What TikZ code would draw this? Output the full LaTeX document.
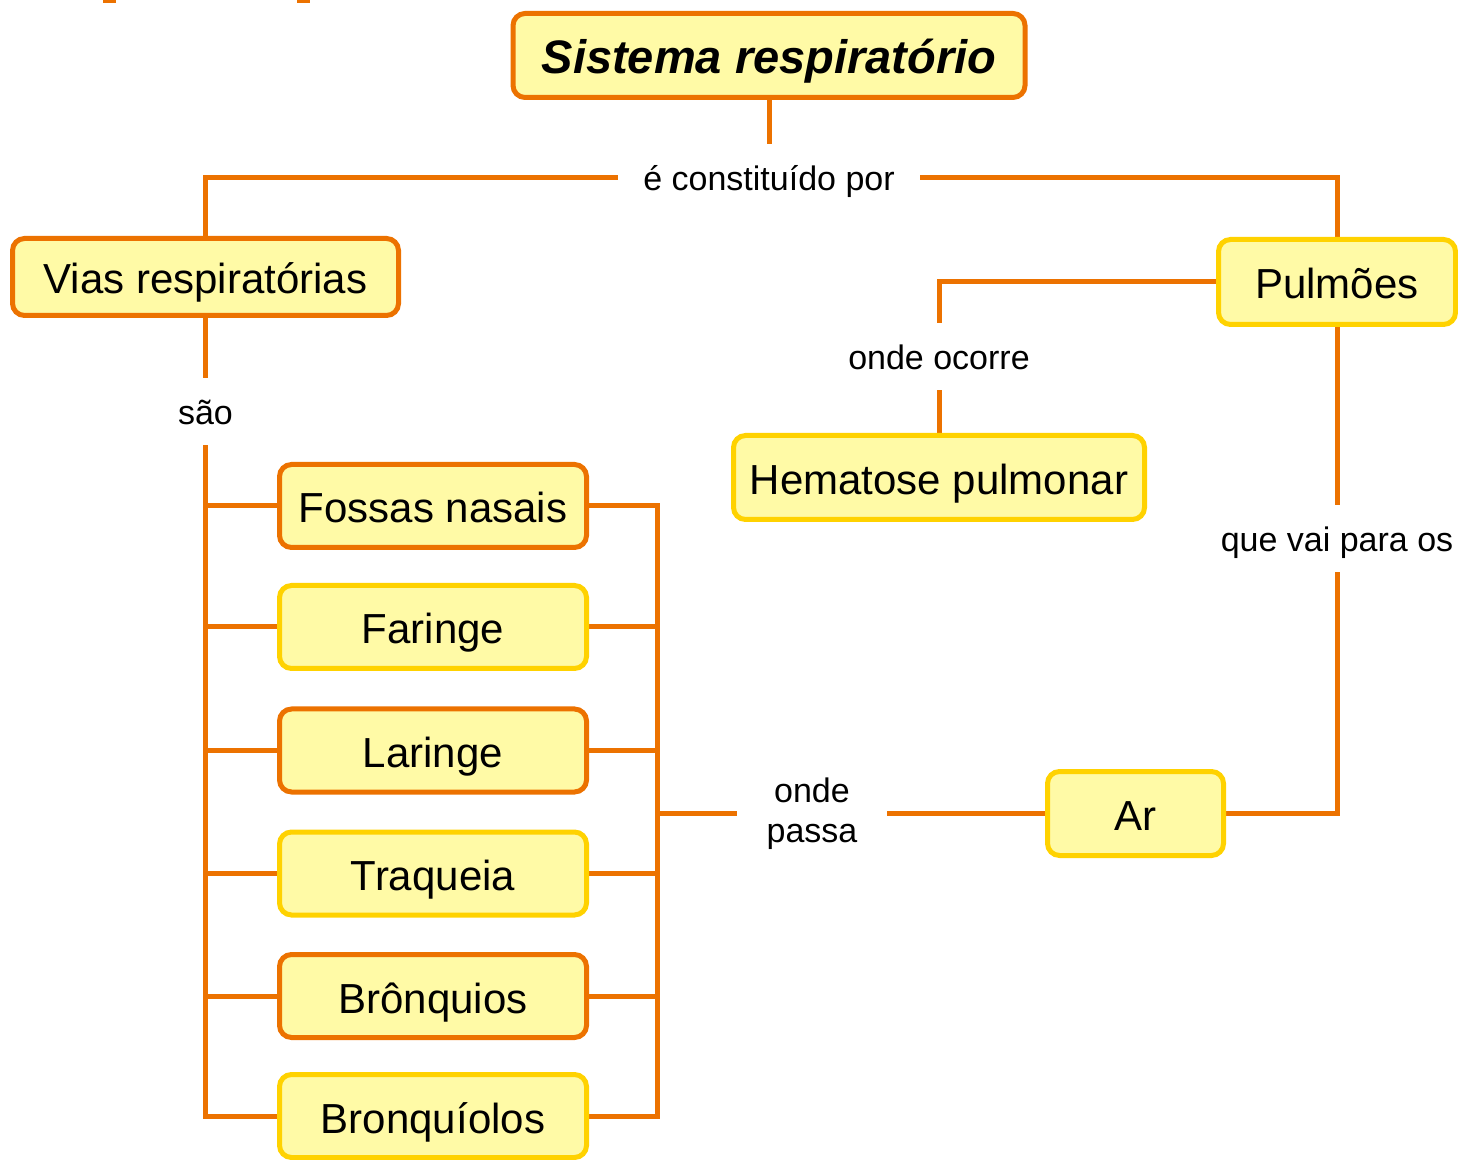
\documentclass[tikz,border=0pt]{standalone}
\usepackage{fontspec}
\setmainfont{Liberation Sans}
\usetikzlibrary{backgrounds}
\definecolor{mapaorange}{RGB}{236,114,0}
\definecolor{mapayellow}{RGB}{255,210,0}
\definecolor{mapafill}{RGB}{255,250,166}
\tikzset{
	box/.style={draw, fill=mapafill, rounded corners=6pt, line width=2.5pt, inner sep=0pt, align=center,
		font=\fontsize{21}{25}\selectfont, text height=17pt, text depth=0pt},
	boxo/.style={box, draw=mapaorange},
	boxy/.style={box, draw=mapayellow},
	conn/.style={draw=mapaorange, line width=2.5pt},
	lbl/.style={inner sep=0pt, minimum height=33.5pt, align=center, font=\fontsize{17}{20}\selectfont},
	lbl1/.style={lbl, text height=13pt, text depth=0pt}
}

\begin{document}
\begin{tikzpicture}[x=0.5pt, y=-0.5pt]
		\useasboundingbox (0,0) rectangle (1458,1160);
		\fill[mapaorange] (103,0) rectangle (116,3);
		\fill[mapaorange] (297,0) rectangle (310,3);
		\node[boxo, minimum width=256pt, minimum height=42pt, font=\fontsize{23.5}{28}\selectfont\bfseries\itshape,
			text height=17.8pt] (sistema) at (769,55.5) {Sistema respiratório};
		\node[boxo, minimum width=193pt, minimum height=38.5pt, text height=16.3pt] (vias) at (205.5,277) {Vias respiratórias};
		\node[boxy, minimum width=118.5pt, minimum height=42.5pt] (pulmoes) at (1337,282) {Pulmões};
		\node[boxy, minimum width=205.5pt, minimum height=42pt] (hematose) at (939,477.5) {Hematose pulmonar};
		\node[boxy, minimum width=88pt, minimum height=42pt] (ar) at (1135.5,813.5) {Ar};
		\foreach \nome/\texto/\cor/\y in {fossas/Fossas nasais/boxo/506, faringe/Faringe/boxy/627,
			laringe/Laringe/boxo/750.5, traqueia/Traqueia/boxy/873.5, bronquios/Brônquios/boxo/996,
			bronquiolos/Bronquíolos/boxy/1116} {
		\node[\cor, minimum width=153.5pt, minimum height=41.5pt] (\nome) at (433,\y) {\texto};
		}
		\node[lbl1, minimum width=151pt] (lconst) at (769,178) {é constituído por};
		\node[lbl1] (lsao) at (205.5,411.5) {são};
		\node[lbl1] (locorre) at (939,356.5) {onde ocorre};
		\node[lbl1] (lvai) at (1337,538.5) {que vai para os};
		\node[lbl, minimum width=75pt] (lpassa) at (812,814) {onde\\passa};
		\coordinate (bus) at (657,813);
		\begin{scope}[on background layer]
		\draw[conn] (sistema) -- (lconst);
		\draw[conn] (lconst.west) -| (vias.north);
		\draw[conn] (lconst.east) -| (pulmoes.north);
		\draw[conn] (vias.south) -- (lsao.north);
		\draw[conn] (pulmoes.west) -| (locorre.north);
		\draw[conn] (locorre.south) -- (hematose.north);
		\draw[conn] (pulmoes.south) -- (lvai.north);
		\draw[conn] (lvai.south) |- (ar.east);
		\draw[conn] (ar.west) -- (lpassa.east |- ar.west);
		\draw[conn] (lpassa.west |- bus) -- (bus);
		\foreach \nome in {fossas,faringe,laringe,traqueia,bronquios,bronquiolos} {
		\draw[conn] (\nome.west) -| (lsao.south);
		\draw[conn] (\nome.east) -| (bus);
		}
		\end{scope}
	\end{tikzpicture}
\end{document}
